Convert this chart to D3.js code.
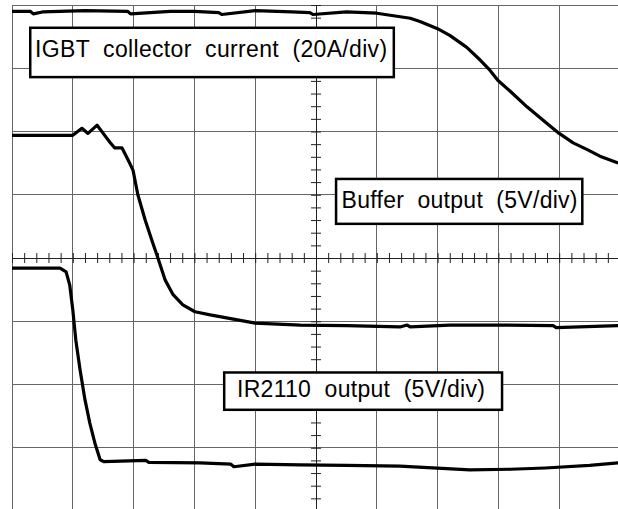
<!DOCTYPE html>
<html>
<head>
<meta charset="utf-8">
<script src="https://cdn.jsdelivr.net/npm/d3@7"></script>
<style>
  body { margin: 0; background: #fff; }
  svg { display: block; }
  .lbl { font-family: "Liberation Sans", Arial, sans-serif; font-size: 23px; fill: #000; }
</style>
</head>
<body>
<svg id="scope" width="618" height="509"></svg>
<script>
// time axis in divisions (0..10), amplitude in divisions (-4..4)
const igbtTime = [0, 0.3, 0.35, 0.5, 1.2, 1.9, 1.95, 2.6, 3.0, 3.4, 3.45, 4.0, 4.6, 4.9, 4.95, 5.5, 6.0, 6.55, 6.71, 6.99, 7.2, 7.48, 7.7, 7.86, 7.99, 8.19, 8.47, 8.77, 9.0, 9.23, 9.47, 9.67, 9.97];
const igbtLevel = [3.90, 3.90, 3.86, 3.89, 3.91, 3.90, 3.86, 3.90, 3.90, 3.88, 3.85, 3.91, 3.89, 3.88, 3.85, 3.89, 3.87, 3.79, 3.74, 3.63, 3.52, 3.33, 3.13, 2.97, 2.81, 2.64, 2.39, 2.15, 1.97, 1.82, 1.71, 1.61, 1.50];

const bufTime = [0, 0.5, 1.0, 1.15, 1.25, 1.40, 1.50, 1.61, 1.69, 1.81, 1.91, 1.99, 2.07, 2.19, 2.30, 2.40, 2.52, 2.65, 2.81, 3.01, 3.26, 4.0, 4.74, 5.5, 6.38, 6.5, 6.55, 7.2, 8.03, 8.9, 8.95, 9.97];
const bufLevel = [1.94, 1.94, 1.94, 2.05, 1.97, 2.10, 1.97, 1.83, 1.74, 1.74, 1.55, 1.39, 1.00, 0.60, 0.28, 0.0, -0.35, -0.58, -0.74, -0.85, -0.90, -1.03, -1.06, -1.07, -1.09, -1.06, -1.09, -1.06, -1.06, -1.07, -1.10, -1.07];

const drvTime = [0, 0.79, 0.89, 0.95, 1.0, 1.05, 1.12, 1.20, 1.28, 1.37, 1.45, 1.51, 2.2, 2.25, 3.09, 3.6, 3.65, 4.0, 4.74, 5.5, 6.38, 7.53, 8.2, 8.77, 9.5, 9.97];
const drvLevel = [-0.16, -0.16, -0.22, -0.43, -0.82, -1.30, -1.77, -2.24, -2.61, -2.95, -3.19, -3.22, -3.20, -3.23, -3.24, -3.26, -3.30, -3.26, -3.27, -3.28, -3.29, -3.35, -3.34, -3.32, -3.28, -3.24];

const labels = ['IGBT  collector  current  (20A/div)', 'Buffer  output  (5V/div)', 'IR2110  output  (5V/div)'];

const svg = d3.select('#scope');

const x = d3.scaleLinear().domain([0, 10]).range([12, 620]);
const y = d3.scaleLinear().domain([-4, 4]).range([511, 5]);

// label boxes: [left, right, top, bottom] in divisions, text start, baseline, text width px
const boxes = [
  { l: 0.30, r: 6.28, t: 3.64, b: 2.86, tx: 0.38, ty: 3.17, w: 352 },
  { l: 5.33, r: 9.38, t: 1.25, b: 0.54, tx: 5.42, ty: 0.79, w: 236 },
  { l: 3.49, r: 8.06, t: -1.81, b: -2.40, tx: 3.70, ty: -2.20, w: 248 }
];

// graticule
const grid = svg.append('g').attr('stroke', '#666').attr('stroke-width', 1).attr('shape-rendering', 'crispEdges');
grid.selectAll('line.v')
  .data(d3.range(0, 11))
  .enter().append('line')
  .attr('x1', d => x(d)).attr('x2', d => x(d))
  .attr('y1', y(4)).attr('y2', y(-4));
grid.selectAll('line.h')
  .data(d3.range(-4, 5))
  .enter().append('line')
  .attr('x1', x(0)).attr('x2', x(10))
  .attr('y1', d => y(d)).attr('y2', d => y(d));

// centre axes with minor ticks
svg.append('g')
  .attr('transform', 'translate(0,' + y(0) + ')')
  .call(d3.axisBottom(x).tickValues(d3.range(0, 10.01, 0.2)).tickSize(5).tickFormat(''))
  .call(g => g.select('.domain').remove())
  .call(g => g.selectAll('line').attr('y1', -5).attr('stroke', '#222'));
svg.append('g')
  .attr('transform', 'translate(' + x(5) + ',0)')
  .call(d3.axisLeft(y).tickValues(d3.range(-4, 4.01, 0.2)).tickSize(5).tickFormat(''))
  .call(g => g.select('.domain').remove())
  .call(g => g.selectAll('line').attr('x1', 5).attr('stroke', '#222'));
svg.append('line')
  .attr('x1', x(0)).attr('x2', x(10)).attr('y1', y(0)).attr('y2', y(0))
  .attr('stroke', '#222').attr('shape-rendering', 'crispEdges');
svg.append('line')
  .attr('x1', x(5)).attr('x2', x(5)).attr('y1', y(4)).attr('y2', y(-4))
  .attr('stroke', '#222').attr('shape-rendering', 'crispEdges');

// traces
const line = d3.line().x(d => x(d[0])).y(d => y(d[1]));
[[igbtTime, igbtLevel], [bufTime, bufLevel], [drvTime, drvLevel]].forEach(s => {
  svg.append('path')
    .datum(d3.zip(s[0], s[1]))
    .attr('fill', 'none')
    .attr('stroke', '#000')
    .attr('stroke-width', 3.2)
    .attr('stroke-linejoin', 'round')
    .attr('d', line);
});

// labels in boxes
labels.forEach((t, i) => {
  const bx = boxes[i];
  svg.append('rect')
    .attr('x', x(bx.l)).attr('y', y(bx.t))
    .attr('width', x(bx.r) - x(bx.l)).attr('height', y(bx.b) - y(bx.t))
    .attr('fill', '#fff').attr('stroke', '#000').attr('stroke-width', 2.5);
  svg.append('text').attr('class', 'lbl')
    .attr('x', x(bx.tx))
    .attr('y', y(bx.ty))
    .attr('textLength', bx.w)
    .attr('lengthAdjust', 'spacing')
    .style('white-space', 'pre')
    .text(t);
});
</script>
</body>
</html>
